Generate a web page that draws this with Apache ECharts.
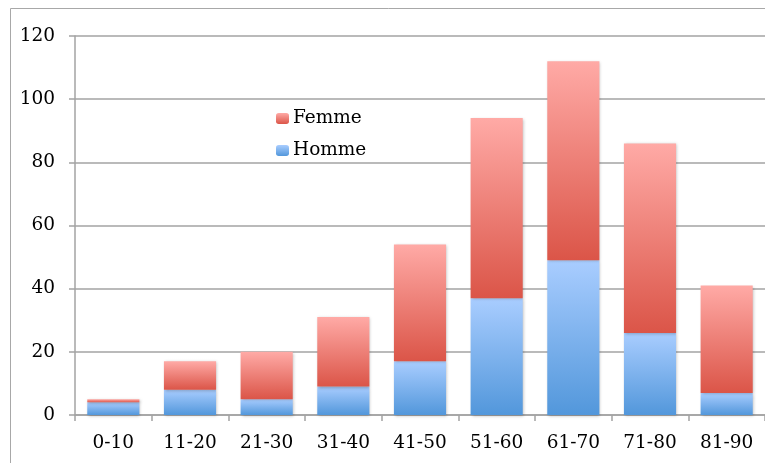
<!DOCTYPE html>
<html>
<head>
<meta charset="utf-8">
<script src="https://cdn.jsdelivr.net/npm/echarts@6/dist/echarts.min.js"></script>
<style>
  html, body { margin: 0; padding: 0; background: #fff; }
  #chart { width: 765px; height: 463px; }
</style>
</head>
<body>
<div id="chart"></div>
<script>
// Tranches d'âge et effectifs par sexe
const categories = ['0-10', '11-20', '21-30', '31-40', '41-50', '51-60', '61-70', '71-80', '81-90'];
const homme = [4, 8, 5, 9, 17, 37, 49, 26, 7];
const femme = [1, 9, 15, 22, 37, 57, 63, 60, 34];
const yTicks = [0, 20, 40, 60, 80, 100, 120];

const font = 'DejaVu Serif, serif';
const gridColor = '#a3a3a3';

function vGrad(top, bottom) {
  return new echarts.graphic.LinearGradient(0, 0, 0, 1, [
    { offset: 0, color: top },
    { offset: 1, color: bottom }
  ]);
}

const chart = echarts.init(document.getElementById('chart'), null, { renderer: 'canvas' });
chart.setOption({
  animation: false,
  backgroundColor: '#ffffff',
  graphic: [{
    type: 'rect',
    shape: { x: 10.5, y: 8.5, width: 800, height: 500 },
    style: { fill: 'none', stroke: '#a8a8a8', lineWidth: 1 },
    z: -1
  }],
  grid: { left: 75, top: 36, width: 693, height: 379 },
  legend: {
    data: ['Femme', 'Homme'],
    orient: 'vertical',
    left: 271,
    top: 104,
    itemWidth: 13,
    itemHeight: 11,
    itemGap: 13,
    textStyle: { fontFamily: font, fontSize: 18.5, color: '#000', padding: [0, 0, 0, -1] }
  },
  xAxis: {
    type: 'category',
    data: categories,
    axisLine: { lineStyle: { color: gridColor, width: 1.5 } },
    axisTick: { show: true, length: 6, inside: false, lineStyle: { color: gridColor, width: 1.5 } },
    axisLabel: { fontFamily: font, fontSize: 18.5, color: '#000', margin: 19 }
  },
  yAxis: {
    type: 'value',
    min: yTicks[0],
    max: yTicks[yTicks.length - 1],
    interval: 20,
    axisLine: { show: true, lineStyle: { color: gridColor, width: 1.5 } },
    axisTick: { show: true, length: 6, lineStyle: { color: gridColor, width: 1.5 } },
    splitLine: { lineStyle: { color: gridColor, width: 1.5 } },
    axisLabel: { fontFamily: font, fontSize: 18.5, color: '#000', margin: 20 }
  },
  series: [
    {
      name: 'Homme',
      type: 'bar',
      stack: 'total',
      data: homme,
      barCategoryGap: '32%',
      itemStyle: {
        color: vGrad('#a9cdff', '#5297db'),
        shadowColor: 'rgba(0,0,0,0.25)', shadowBlur: 3, shadowOffsetX: 1, shadowOffsetY: 1
      }
    },
    {
      name: 'Femme',
      type: 'bar',
      stack: 'total',
      data: femme,
      barCategoryGap: '32%',
      itemStyle: {
        color: vGrad('#ffaaa6', '#db5548'),
        shadowColor: 'rgba(0,0,0,0.25)', shadowBlur: 3, shadowOffsetX: 1, shadowOffsetY: 1
      }
    }
  ]
});
</script>
</body>
</html>
